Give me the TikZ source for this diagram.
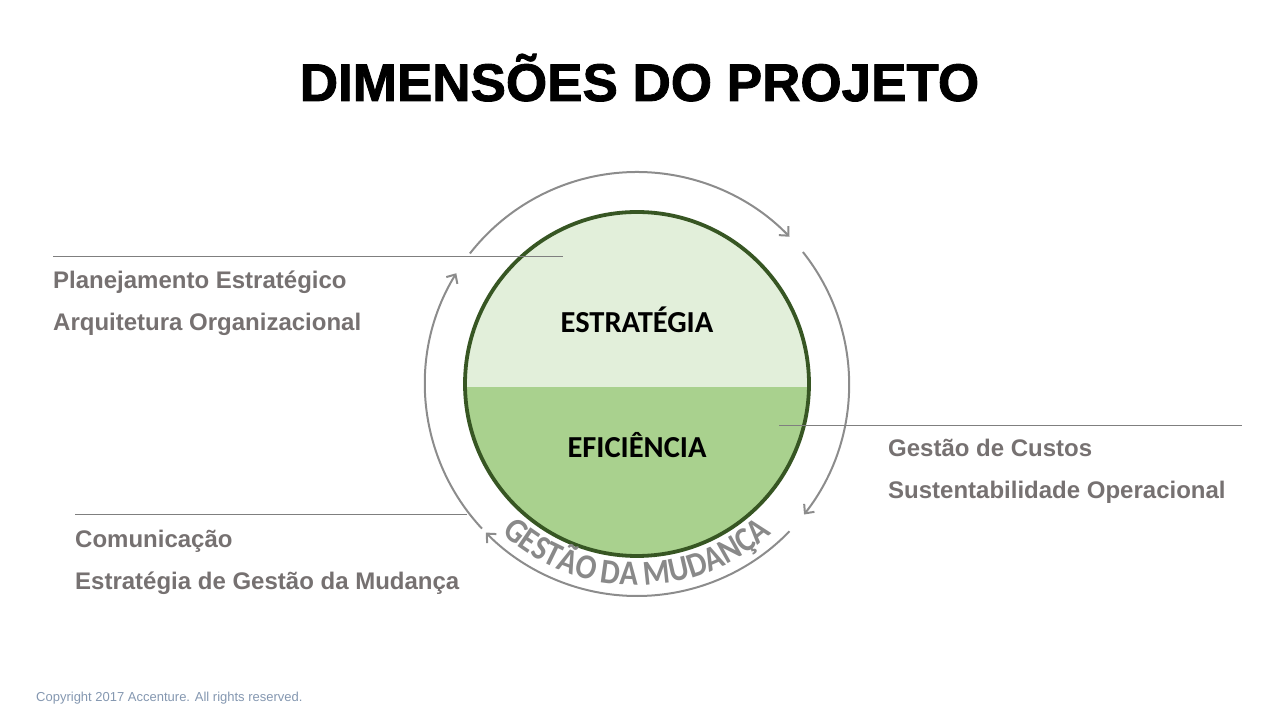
\documentclass[tikz,border=0pt]{standalone}
\usepackage{fontspec}
\setmainfont{Liberation Sans}
\newfontfamily\carlito{Carlito}
\newfontfamily\arcfont[FakeStretch=0.88]{Carlito Bold}
\newfontfamily\titlefont[FakeBold=1.6]{Liberation Sans Bold}
\usetikzlibrary{arrows.meta,decorations.text}
\definecolor{lblgray}{HTML}{767171}
\definecolor{arcgray}{HTML}{8C8C8C}
\definecolor{txtgray}{HTML}{898989}
\definecolor{lightg}{HTML}{E2EFDA}
\definecolor{midg}{HTML}{A9D18E}
\definecolor{darkg}{HTML}{375623}
\definecolor{copyc}{HTML}{8497B0}
\definecolor{leader}{HTML}{7F7F7F}
\begin{document}
\begin{tikzpicture}[x=1pt,y=1pt,
  cyc/.style={draw=arcgray,line width=2pt,-{Straight Barb[length=7pt,width=13pt,line width=2pt]}},
  lead/.style={draw=leader,line width=0.9pt},
  lbl/.style={anchor=base west,inner sep=0pt,text=lblgray,font=\fontsize{24}{26}\selectfont\bfseries},
  inlbl/.style={inner sep=0pt,font=\carlito\fontsize{30.5}{32}\selectfont\bfseries,text=black}]
\useasboundingbox (0,0) rectangle (1280,720);
\coordinate (C) at (637,336);
% title
\node[anchor=base,inner sep=0pt,font=\titlefont\fontsize{53}{56}\selectfont] (title) at (639.5,619) {DIMENSÕES DO PROJETO};
% circle
\begin{scope}
  \clip (C) circle[radius=172];
  \fill[lightg] (465,333) rectangle (810,510);
  \fill[midg] (465,333) rectangle (810,160);
\end{scope}
\draw[darkg,line width=3.8pt] (C) circle[radius=172];
\node[inlbl] (estr) at (637,400) {ESTRATÉGIA};
\node[inlbl] (efic) at (637,275) {EFICIÊNCIA};
% cycle arcs
\path[cyc] (C) ++(142:212) arc[start angle=142,end angle=44,radius=212];
\path[cyc] (C) ++(38.5:212) arc[start angle=38.5,end angle=-38,radius=212];
\path[cyc] (C) ++(-44:212) arc[start angle=-44,end angle=-135.5,radius=212];
\path[cyc] (C) ++(-137:212) arc[start angle=-137,end angle=-211.5,radius=212];
% curved text
\path[decorate,decoration={text along path,text align=center,text color=txtgray,
  text format delimiters={|}{|},
  text={|\arcfont\fontsize{35}{35}\selectfont|GESTÃO DA MUDANÇA}}]
  (C) ++(215:201.5) arc[start angle=215,end angle=325,radius=201.5];
% leader lines
\coordinate (l1a) at (53,464); \coordinate (l1b) at (563,464);
\coordinate (l2a) at (779,295); \coordinate (l2b) at (1242,295);
\coordinate (l3a) at (75,206); \coordinate (l3b) at (467,206);
\draw[lead] (l1a) -- (l1b);
\draw[lead] (l2a) -- (l2b);
\draw[lead] (l3a) -- (l3b);
% labels
\node[lbl] (p1) at (53,431) {Planejamento Estratégico};
\node[lbl] (p2) at (53,389) {Arquitetura Organizacional};
\node[lbl] (g1) at (888,263) {Gestão de Custos};
\node[lbl] (g2) at (888,221) {Sustentabilidade Operacional};
\node[lbl] (c1) at (75,172) {Comunicação};
\node[lbl] (c2) at (75,130) {Estratégia de Gestão da Mudança};
% copyright
\node[anchor=base west,inner sep=0pt,text=copyc,font=\fontsize{13}{15}\selectfont] (copy) at (36,18) {Copyright 2017 Accenture. All rights reserved.};
\end{tikzpicture}
\end{document}
